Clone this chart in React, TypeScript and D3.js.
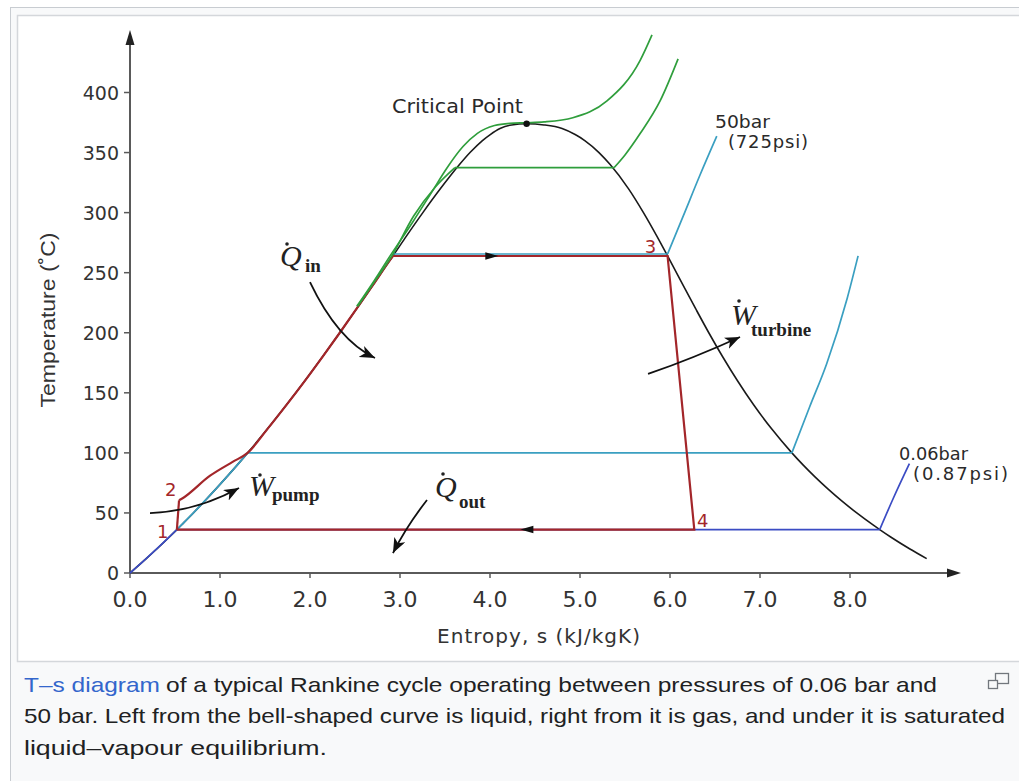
import React from "react";
import * as d3 from "d3";

type P = [number, number];

// ---------- data ----------
const xTicks = [0, 1, 2, 3, 4, 5, 6, 7, 8];
const yTicks = [0, 50, 100, 150, 200, 250, 300, 350, 400];

// saturation dome of water: temperature (°C), liquid entropy, vapour entropy (kJ/kgK)
const satT = [0.01, 12, 20, 30, 36.16, 40, 50, 60, 70, 80, 90, 100, 120, 140, 160, 180, 200, 220, 240, 260, 263.9, 280, 300, 320, 340, 350, 360, 365, 370, 373, 373.95];
const satSf = [0, 0.18, 0.297, 0.437, 0.521, 0.572, 0.704, 0.831, 0.955, 1.075, 1.193, 1.307, 1.528, 1.739, 1.943, 2.139, 2.331, 2.518, 2.702, 2.884, 2.921, 3.067, 3.254, 3.45, 3.661, 3.778, 3.916, 4.003, 4.111, 4.24, 4.407];
const satSg = [9.155, 8.852, 8.666, 8.452, 8.33, 8.256, 8.075, 7.908, 7.754, 7.611, 7.478, 7.354, 7.129, 6.929, 6.75, 6.585, 6.431, 6.285, 6.142, 6.001, 5.973, 5.857, 5.705, 5.538, 5.335, 5.211, 5.053, 4.946, 4.801, 4.6, 4.407];
const domeEndT = 12;

// isobars: saturation temperatures and superheated branches (s, T)
const tsatLow = 36.16; // 0.06 bar
const tsatAtm = 100; // 1 bar
const tsatHigh = 263.9; // 50 bar
const vapourLow: P[] = [[8.33, 36.16], [8.48, 62], [8.66, 91]];
const vapourAtm: P[] = [[7.354, 100], [7.55, 138], [7.74, 174], [7.97, 229], [8.09, 264]];
const vapourHigh: P[] = [[5.973, 263.9], [6.15, 296], [6.33, 329], [6.52, 362]];
const liquid140: P[] = [[2.53, 222], [2.72, 243], [2.91, 264], [3.15, 297], [3.4, 322], [3.61, 337.5]];
const vapour140: P[] = [[5.38, 337.5], [5.5, 348], [5.67, 366], [5.89, 393], [6.09, 428]];
const critical221: P[] = [[2.52, 222], [2.71, 243], [2.89, 264], [3.14, 292], [3.36, 318], [3.52, 337], [3.7, 355], [3.86, 366], [4.05, 372.5], [4.22, 374.3], [4.41, 374.8], [4.6, 375.5], [4.92, 379], [5.3, 393], [5.67, 427], [5.8, 448]];

// Rankine cycle state points
const state1: P = [0.521, 36.16];
const state2: P = [0.545, 60.5];
const state3: P = [5.973, 263.9];
const state4: P = [6.27, 36.16];
const pumpHeating: P[] = [[0.545, 60.5], [0.58, 62], [0.89, 81], [1.14, 92.5]];
const criticalPoint: P = [4.407, 373.95];

const cycleArrows = [
  { at: [4.02, 263.9] as P, dir: 1 },
  { at: [4.41, 36.16] as P, dir: -1 },
];

const annArrows: { p0: P; c: P; p2: P }[] = [
  { p0: [2.0, 242.2], c: [2.306, 194.0], p2: [2.722, 179.0] },
  { p0: [0.222, 49.9], c: [0.733, 51.2], p2: [1.211, 70.8] },
  { p0: [3.3, 60.8], c: [3.067, 38.3], p2: [2.922, 16.6] },
  { p0: [5.756, 165.7], c: [6.267, 179.0], p2: [6.778, 196.5] },
];

const annLabels = [
  { sym: "Q", sub: "in", at: [1.667, 255.6] as P, dot: [7, -22], subOff: [25, 6] },
  { sym: "W", sub: "pump", at: [1.322, 64.1] as P, dot: [11, -21], subOff: [23, 5] },
  { sym: "Q", sub: "out", at: [3.389, 63.3] as P, dot: [8, -23], subOff: [24, 11] },
  { sym: "W", sub: "turbine", at: [6.678, 206.4] as P, dot: [8, -24], subOff: [20, 11] },
];

const stateLabels = [
  { t: "1", at: [0.3, 29.5] as P },
  { t: "2", at: [0.39, 63.7] as P },
  { t: "3", at: [5.72, 266.4] as P },
  { t: "4", at: [6.3, 38.3] as P },
];

// ---------- helpers ----------
const x = d3.scaleLinear().domain([0, 8]).range([130, 850]);
const y = d3.scaleLinear().domain([0, 400]).range([573, 92.5]);
const lineM = d3.line<P>().x((d) => x(d[0])).y((d) => y(d[1])).curve(d3.curveMonotoneX);
const lineL = d3.line<P>().x((d) => x(d[0])).y((d) => y(d[1]));

const liquidPts: P[] = satT.map((t, i) => [satSf[i], t] as P);
const vapourPts: P[] = satT
  .map((t, i) => [satSg[i], t] as P)
  .filter((d) => d[1] >= domeEndT)
  .reverse();
const dome: P[] = [...liquidPts, ...vapourPts.slice(1)];

const idx = (t: number) => satT.indexOf(t);
const liqBetween = (a: number, b: number) => liquidPts.filter((d) => d[1] >= a && d[1] <= b);

const RED = "#a3262a";
const CYAN = "#3a9fc1";
const BLUE = "#3b4cc4";
const GREEN = "#2f9e3c";

export default function App() {
  const sans = "'DejaVu Sans', Verdana, sans-serif";
  const cap = "'Liberation Sans', Arial, sans-serif";
  const serif = "'Liberation Serif', 'Times New Roman', serif";

  const redHeat: P[] = [...pumpHeating, ...liqBetween(tsatAtm, tsatHigh)];
  const redLoop: P[] = [[satSf[idx(tsatHigh)], tsatHigh], state3, state4, state1];

  return (
    <svg
      width={1019}
      height={781}
      style={{ position: "absolute", left: 0, top: 0, background: "#fff" }}
    >
      <defs>
        <marker id="ah" markerUnits="userSpaceOnUse" markerWidth={17} markerHeight={13} refX={15} refY={6} orient="auto">
          <path d="M0,0 L15,6 L0,12 L4,6 Z" fill="#111" />
        </marker>
      </defs>

      {/* frame */}
      <rect x={10.5} y={7.5} width={1040} height={800} fill="#f8f9fa" stroke="#c8ccd1" />
      <rect x={17.5} y={15.5} width={1040} height={646} fill="#fff" stroke="#d4d7db" strokeWidth={1.5} />

      {/* axes */}
      <g stroke="#5a5a5a" strokeWidth={2} fill="none">
        <line x1={x(0)} y1={y(0)} x2={x(0)} y2={42} />
        <line x1={x(0)} y1={y(0)} x2={950} y2={y(0)} />
        {yTicks.map((t) => (
          <line key={"yt" + t} x1={x(0) - 6} x2={x(0)} y1={y(t)} y2={y(t)} strokeWidth={1.5} />
        ))}
        {xTicks.map((t) => (
          <line key={"xt" + t} x1={x(t)} x2={x(t)} y1={y(0)} y2={y(0) + 5} strokeWidth={1.5} />
        ))}
      </g>
      <path d={`M${x(0)},30 L${x(0) + 4.5},45 L${x(0) - 4.5},45 Z`} fill="#222" />
      <path d={`M961,${y(0)} L947,${y(0) - 4.5} L947,${y(0) + 4.5} Z`} fill="#222" />

      <g fontFamily={sans} fill="#333">
        {yTicks.map((t) => (
          <text key={"yl" + t} x={119} y={y(t) + 7} fontSize={19} textAnchor="end">
            {t}
          </text>
        ))}
        {xTicks.map((t) => (
          <text key={"xl" + t} x={x(t)} y={607} fontSize={22} textAnchor="middle">
            {t.toFixed(1)}
          </text>
        ))}
        <text x={437} y={643} fontSize={20} textLength={203} lengthAdjust="spacing">
          Entropy, s (kJ/kgK)
        </text>
      </g>
      <text
        transform="translate(55,320) rotate(-90)"
        fontFamily={cap}
        fontSize={21}
        fill="#333"
        textAnchor="middle"
        textLength={175}
        lengthAdjust="spacingAndGlyphs"
      >
        Temperature (˚C)
      </text>

      {/* saturation dome */}
      <path d={lineM(dome) || ""} fill="none" stroke="#1a1a1a" strokeWidth={1.6} />

      {/* 1 bar isobar */}
      <g fill="none" stroke={CYAN} strokeWidth={1.7}>
        <path d={lineM(liqBetween(tsatLow, tsatAtm)) || ""} />
        <path d={lineL([[satSf[idx(tsatAtm)], tsatAtm], [satSg[idx(tsatAtm)], tsatAtm]]) || ""} />
        <path d={lineM(vapourAtm) || ""} />
      </g>
      {/* 50 bar isobar */}
      <g fill="none" stroke={CYAN} strokeWidth={1.7} transform="translate(0,-2)">
        <path d={lineL([[satSf[idx(tsatHigh)], tsatHigh], [satSg[idx(tsatHigh)], tsatHigh]]) || ""} />
        <path d={lineM(vapourHigh) || ""} />
      </g>
      {/* 0.06 bar isobar */}
      <g fill="none" stroke={BLUE} strokeWidth={1.7}>
        <path d={lineM(liqBetween(0, tsatLow)) || ""} />
        <path d={lineL([[satSf[idx(tsatLow)], tsatLow], [satSg[idx(tsatLow)], tsatLow]]) || ""} />
        <path d={lineM(vapourLow) || ""} />
      </g>

      {/* Rankine cycle */}
      <g fill="none" stroke={RED} strokeWidth={2.2} strokeLinejoin="miter">
        <path d={lineL([state1, state2]) || ""} />
        <path d={lineM(redHeat) || ""} />
        <path d={lineL(redLoop) || ""} />
      </g>

      {/* high pressure isobars */}
      <g fill="none" stroke={GREEN} strokeWidth={1.7}>
        <path d={lineM(liquid140) || ""} />
        <path d={lineL([liquid140[liquid140.length - 1], vapour140[0]]) || ""} />
        <path d={lineM(vapour140) || ""} />
        <path d={lineM(critical221) || ""} />
      </g>

      {cycleArrows.map((a, i) => {
        const cx = x(a.at[0]);
        const cy = y(a.at[1]);
        const d = a.dir;
        return (
          <path
            key={"ca" + i}
            d={`M${cx + d * 6.5},${cy} L${cx - d * 6.5},${cy - 3.8} L${cx - d * 6.5},${cy + 3.8} Z`}
            fill="#111"
          />
        );
      })}

      <circle cx={x(criticalPoint[0])} cy={y(criticalPoint[1])} r={3.2} fill="#111" />

      {/* labels */}
      <g fontFamily={sans} fill="#2a2a2a">
        <text x={392} y={113} fontSize={20} textLength={131} lengthAdjust="spacingAndGlyphs">
          Critical Point
        </text>
        <text x={715} y={128} fontSize={18} textLength={55} lengthAdjust="spacingAndGlyphs">
          50bar
        </text>
        <text x={728} y={148} fontSize={18} textLength={80} lengthAdjust="spacing">
          (725psi)
        </text>
        <text x={899} y={460} fontSize={18} textLength={69} lengthAdjust="spacingAndGlyphs">
          0.06bar
        </text>
        <text x={913} y={480} fontSize={18} textLength={95} lengthAdjust="spacing">
          (0.87psi)
        </text>
      </g>
      <g fontFamily={sans} fill={RED} fontSize={18}>
        {stateLabels.map((s) => (
          <text key={s.t} x={x(s.at[0])} y={y(s.at[1])}>
            {s.t}
          </text>
        ))}
      </g>

      {/* annotation arrows */}
      <g fill="none" stroke="#111" strokeWidth={1.8}>
        {annArrows.map((a, i) => (
          <path
            key={"aa" + i}
            d={`M${x(a.p0[0])},${y(a.p0[1])} Q${x(a.c[0])},${y(a.c[1])} ${x(a.p2[0])},${y(a.p2[1])}`}
            markerEnd="url(#ah)"
          />
        ))}
      </g>
      {annLabels.map((l, i) => {
        const ax = x(l.at[0]);
        const ay = y(l.at[1]);
        return (
          <g key={"al" + i} fill="#222">
            <text x={ax} y={ay} fontFamily={serif} fontStyle="italic" fontSize={30}>
              {l.sym}
            </text>
            <circle cx={ax + l.dot[0]} cy={ay + l.dot[1]} r={1.8} />
            <text x={ax + l.subOff[0]} y={ay + l.subOff[1]} fontFamily={serif} fontWeight="bold" fontSize={19}>
              {l.sub}
            </text>
          </g>
        );
      })}

      {/* caption */}
      <g fontFamily={cap} fontSize={21} fill="#202122">
        <text x={24} y={692} fill="#3366cc" textLength={136} lengthAdjust="spacingAndGlyphs">
          T–s diagram
        </text>
        <text x={166} y={692} textLength={771} lengthAdjust="spacingAndGlyphs">
          of a typical Rankine cycle operating between pressures of 0.06 bar and
        </text>
        <text x={24} y={723} textLength={981} lengthAdjust="spacingAndGlyphs">
          50 bar. Left from the bell-shaped curve is liquid, right from it is gas, and under it is saturated
        </text>
        <text x={24} y={755} textLength={303} lengthAdjust="spacingAndGlyphs">
          liquid–vapour equilibrium.
        </text>
      </g>
      <g fill="#f8f9fa" stroke="#72777d" strokeWidth={1.3}>
        <rect x={995.5} y={673.5} width={13} height={10} fill="none" />
        <rect x={988.5} y={680.5} width={9} height={8} />
      </g>
    </svg>
  );
}
